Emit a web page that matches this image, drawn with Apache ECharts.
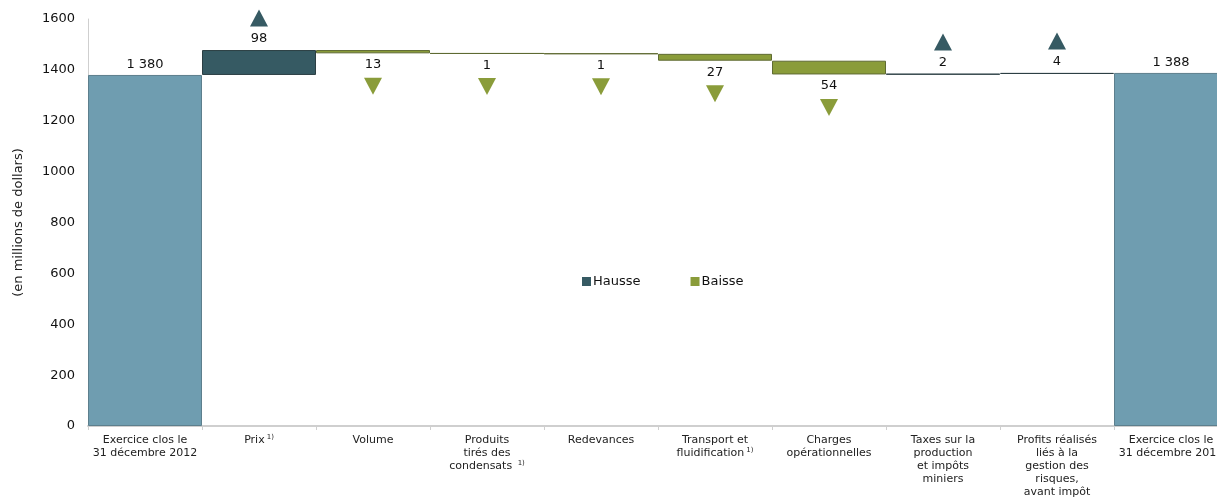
<!DOCTYPE html>
<html><head><meta charset="utf-8">
<script src="https://cdn.jsdelivr.net/npm/echarts@6/dist/echarts.min.js"></script>
<style>html,body{margin:0;padding:0;background:#fff}#c{width:1217px;height:498px}</style>
</head><body><div id="c"></div>
<script>
const categories = [
  "Exercice clos le\n31 décembre 2012",
  "Prix{sup|1)}",
  "Volume",
  "Produits\ntirés des\ncondensats {sup|1)}",
  "Redevances",
  "Transport et\nfluidification{sup|1)}",
  "Charges\nopérationnelles",
  "Taxes sur la\nproduction\net impôts\nminiers",
  "Profits réalisés\nliés à la\ngestion des\nrisques,\navant impôt",
  "Exercice clos le\n31 décembre 2013"
];
// first and last are totals, others are changes
const values = [1380, 98, -13, -1, -1, -27, -54, 2, 4, 1388];
const isTotal = [true, false, false, false, false, false, false, false, false, true];
const yTicks = [0, 200, 400, 600, 800, 1000, 1200, 1400, 1600];

const base = [], up = [], down = [], totals = [], upTri = [], downTri = [];
let cum = 0;
values.forEach((v, i) => {
  if (isTotal[i]) {
    cum = v;
    base.push('-'); up.push('-'); down.push('-'); totals.push(v);
    upTri.push('-'); downTri.push('-');
  } else if (v >= 0) {
    base.push(cum); up.push(v); down.push('-'); totals.push('-');
    upTri.push(cum + v); downTri.push('-');
    cum += v;
  } else {
    cum += v;
    base.push(cum); up.push('-'); down.push(-v); totals.push('-');
    upTri.push('-'); downTri.push(cum);
  }
});

const fmt = n => String(n).replace(/\B(?=(\d{3})+(?!\d))/g, ' ');
const FONT = 'DejaVu Sans';
const chart = echarts.init(document.getElementById('c'));
chart.setOption({
  animation: false,
  textStyle: { fontFamily: FONT },
  legend: {
    data: [
      { name: 'Hausse', itemStyle: { color: '#365a63', borderWidth: 0 } },
      { name: 'Baisse', itemStyle: { color: '#8a9c3a', borderWidth: 0 } }
    ],
    left: 577, top: 270, itemGap: 50, itemWidth: 9, itemHeight: 9, icon: 'rect',
    textStyle: { fontFamily: FONT, fontSize: 13, color: '#111', padding: [0, 0, 0, -3] }
  },
  grid: { left: 88, top: 19, width: 1140, height: 407, outerBoundsMode: 'none', containLabel: false },
  xAxis: {
    type: 'category', data: categories,
    axisLine: { lineStyle: { color: '#cfcfcf', width: 2 } },
    axisTick: { show: true, length: 4, lineStyle: { color: '#cfcfcf' } },
    axisLabel: {
      interval: 0, margin: 8, color: '#222', fontSize: 11, lineHeight: 13, fontFamily: FONT,
      rich: { sup: { fontSize: 7, verticalAlign: 'top', padding: [0, 0, 6, 2], color: '#222' } }
    }
  },
  yAxis: {
    type: 'value', min: 0, max: 1600, interval: 200,
    name: '(en millions de dollars)', nameLocation: 'middle', nameGap: 63, nameRotate: 90,
    nameTextStyle: { fontFamily: FONT, fontSize: 13, color: '#222' },
    axisLine: { show: true, lineStyle: { color: '#cfcfcf' } },
    axisTick: { show: false }, splitLine: { show: false },
    axisLabel: { margin: 13, color: '#111', fontSize: 13, fontFamily: FONT,
      formatter: v => yTicks.includes(v) ? String(v) : '' }
  },
  series: [
    { name: 'base', type: 'bar', stack: 'w', data: base, barCategoryGap: 0,
      itemStyle: { color: 'transparent' }, silent: true },
    { name: 'Hausse', type: 'bar', stack: 'w', data: up, barCategoryGap: 0,
      itemStyle: { color: '#365a63', borderColor: '#2c3f44', borderWidth: 1 },
      label: { show: true, position: 'top', distance: 5, color: '#111', fontSize: 13, fontFamily: FONT } },
    { name: 'Baisse', type: 'bar', stack: 'w', data: down, barCategoryGap: 0,
      itemStyle: { color: '#8a9c3a', borderColor: '#5f6b33', borderWidth: 1 },
      label: { show: true, position: 'bottom', distance: 5, color: '#111', fontSize: 13, fontFamily: FONT } },
    { name: 'total', type: 'bar', stack: 'w', data: totals, barCategoryGap: 0,
      itemStyle: { color: '#6f9db0', borderColor: '#5d7f8d', borderWidth: 1 },
      label: { show: true, position: 'top', distance: 4, color: '#111', fontSize: 13, fontFamily: FONT,
        formatter: p => fmt(p.value) } },
    { name: 'upTri', type: 'scatter', data: upTri, symbol: 'triangle', symbolSize: [18, 17],
      symbolOffset: [0, -32], itemStyle: { color: '#365a63', opacity: 1 }, silent: true, z: 5 },
    { name: 'downTri', type: 'scatter', data: downTri, symbol: 'triangle', symbolSize: [18, 17],
      symbolRotate: 180, symbolOffset: [0, 33], itemStyle: { color: '#8a9c3a', opacity: 1 }, silent: true, z: 5 }
  ]
});
</script></body></html>
